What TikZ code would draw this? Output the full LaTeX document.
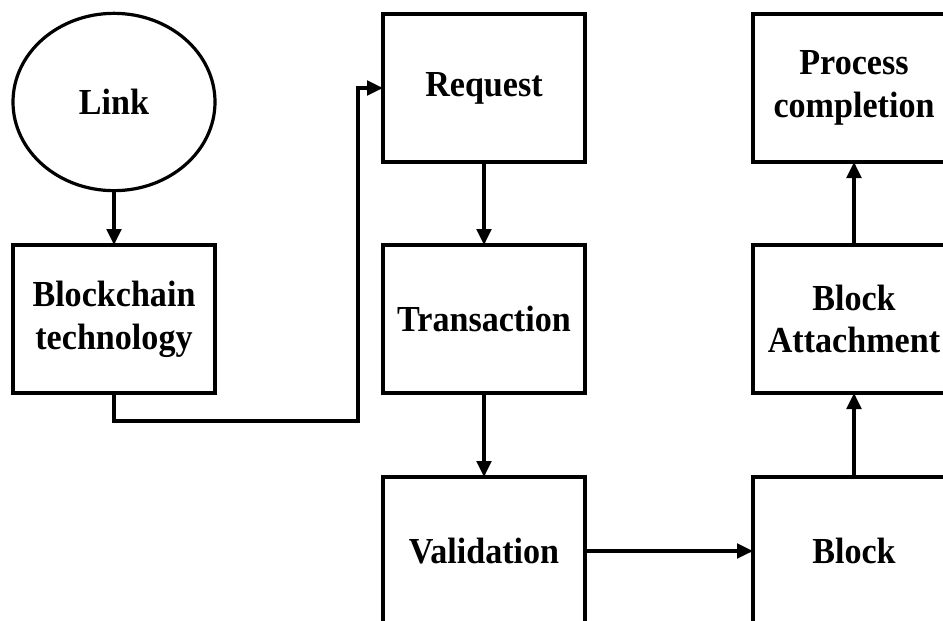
\documentclass[tikz,border=0pt]{standalone}
\usepackage{fontspec}
\setmainfont{Liberation Serif}[FakeStretch=0.93]
\usetikzlibrary{shapes.geometric,arrows.meta}
\begin{document}
\begin{tikzpicture}[x=0.75pt,y=-0.75pt,
  label/.style={font=\bfseries\fontsize{27.5}{32}\selectfont,align=center,inner sep=0pt,outer sep=0pt},
  box/.style={label,draw,line width=2.4pt,minimum width=151.5pt,minimum height=111pt},
  oval/.style={label,ellipse,draw,line width=2.4pt,minimum width=151.5pt,minimum height=133pt},
  arr/.style={line width=2.3pt,-{Triangle[length=12pt,width=11pt]}}]
\useasboundingbox (0,0) rectangle (943,621);
\fill[white] (0,0) rectangle (943,621);
\clip (0,0) rectangle (943,621);

% left column
\node[oval] (link) at (114,102) {Link};
\node[box] (chain) at (114,319) {Blockchain\\technology};

% middle column
\node[box] (req) at (484,88) {Request};
\node[box] (tx) at (484,319) {Transaction};
\node[box] (val) at (484,551) {Validation};

% right column
\node[box] (blk) at (854,551) {Block};
\node[box] (attach) at (854,319) {Block\\Attachment};
\node[box] (done) at (854,88) {Process\\completion};

% connectors
\coordinate (bend) at (358,421);
\draw[arr] (link) -- (chain);
\draw[arr] (chain.south) |- (bend) |- (req.west);
\draw[arr] (req) -- (tx);
\draw[arr] (tx) -- (val);
\draw[arr] (val) -- (blk);
\draw[arr] (blk) -- (attach);
\draw[arr] (attach) -- (done);
\end{tikzpicture}
\end{document}
